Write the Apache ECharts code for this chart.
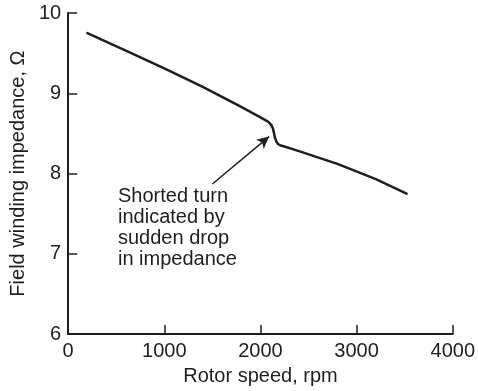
<!DOCTYPE html>
<html>
<head>
<meta charset="utf-8">
<script src="https://cdn.jsdelivr.net/npm/echarts@6/dist/echarts.min.js"></script>
<style>
html,body{margin:0;padding:0;background:#fff;}
#c{width:478px;height:391px;}
</style>
</head>
<body>
<div id="c"></div>
<script>
const rotorSpeed = [200, 600, 1000, 1400, 1800, 2000, 2060, 2090, 2115, 2130, 2140, 2150, 2165, 2185, 2210, 2240, 2400, 2800, 3200, 3520];
const impedance  = [9.75, 9.53, 9.31, 9.08, 8.83, 8.70, 8.66, 8.635, 8.60, 8.56, 8.51, 8.45, 8.40, 8.365, 8.35, 8.34, 8.28, 8.12, 7.93, 7.75];
const xTicks = [0, 1000, 2000, 3000, 4000];
const yTicks = [6, 7, 8, 9, 10];
const arrowFrom = [1500, 7.87];
const arrowTo = [2090, 8.46];
const noteLines = ["Shorted turn", "indicated by", "sudden drop", "in impedance"];

const font = "'Liberation Sans', Arial, Helvetica, sans-serif";
const ink = '#1e1e1e';
const chart = echarts.init(document.getElementById('c'));
chart.setOption({
  animation: false,
  grid: {left: 63, right: 24, top: 13, bottom: 55},
  xAxis: {
    type: 'value', min: xTicks[0], max: xTicks[xTicks.length-1], interval: 1000,
    name: 'Rotor speed, rpm', nameLocation: 'middle', nameGap: 29,
    nameTextStyle: {fontFamily: font, fontSize: 20, color: ink},
    axisLine: {show: true, lineStyle: {color: ink, width: 2}},
    axisTick: {show: true, inside: true, length: 9, lineStyle: {color: ink, width: 1.5}},
    axisLabel: {fontFamily: font, fontSize: 20, color: ink, margin: 7, formatter: v => String(v)},
    splitLine: {show: false}
  },
  yAxis: {
    type: 'value', min: yTicks[0], max: yTicks[yTicks.length-1], interval: 1,
    name: 'Field winding impedance, Ω', nameLocation: 'middle', nameGap: 36, nameRotate: 90,
    nameTextStyle: {fontFamily: font, fontSize: 20, color: ink},
    axisLine: {show: true, lineStyle: {color: ink, width: 2}},
    axisTick: {show: true, inside: true, length: 9, lineStyle: {color: ink, width: 1.5}},
    axisLabel: {fontFamily: font, fontSize: 20, color: ink, margin: 7, formatter: v => String(v)},
    splitLine: {show: false}
  },
  series: [{
    type: 'line',
    data: rotorSpeed.map((x, i) => [x, impedance[i]]),
    showSymbol: false,
    smooth: false,
    lineStyle: {color: ink, width: 2.5, join: 'round', cap: 'round'},
    markLine: {
      silent: true,
      symbol: ['none', 'arrow'],
      symbolSize: [9, 12],
      label: {show: false},
      lineStyle: {color: ink, width: 1.5, type: 'solid'},
      data: [[{coord: arrowFrom}, {coord: arrowTo}]]
    }
  }],
  graphic: [{
    type: 'text', left: 118, top: 186,
    style: {text: noteLines.join('\n'), font: '20px ' + font, fill: ink, lineHeight: 21}
  }]
});
</script>
</body>
</html>
